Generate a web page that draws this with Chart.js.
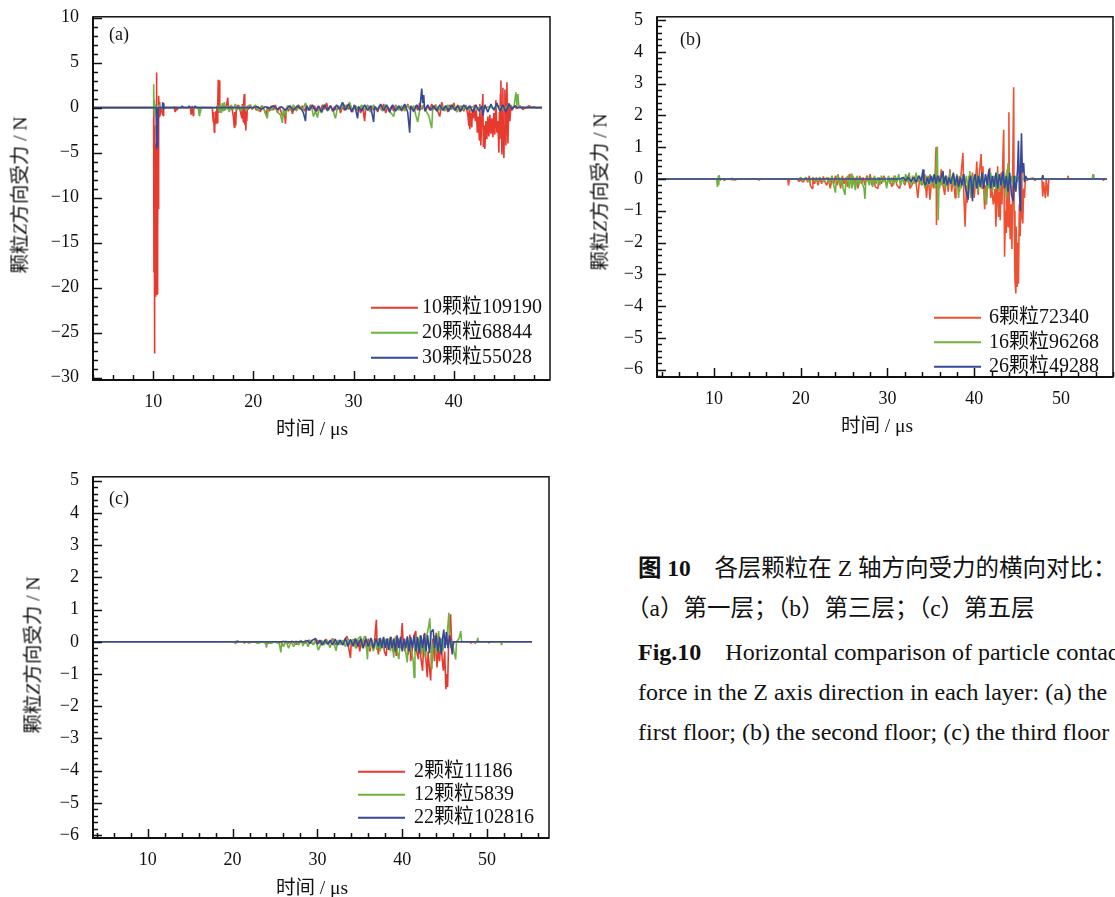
<!DOCTYPE html>
<html>
<head>
<meta charset="utf-8">
<script src="https://cdn.jsdelivr.net/npm/chart.js@4.4.1/dist/chart.umd.min.js"></script>
<style>
  body { margin: 0; width: 1115px; height: 897px; overflow: hidden; background: #fff; position: relative;
         font-family: 'Liberation Serif', 'Noto Sans CJK SC', serif; color: #111; }
  canvas { position: absolute; }
  .ytitle, .xtitle { position: absolute; font-size: 19.5px; white-space: nowrap; transform: translate(-50%, -50%); }
  .ytitle { transform: translate(-50%, -50%) rotate(-90deg); }
  .cap { position: absolute; left: 638px; font-size: 23.5px; white-space: nowrap; line-height: 26px; }
  .en { font-size: 24px; }
</style>
</head>
<body>
<canvas id="chartA" width="570" height="420" style="left:0;top:0"></canvas>
<canvas id="chartB" width="555" height="420" style="left:560px;top:0"></canvas>
<canvas id="chartC" width="570" height="440" style="left:0;top:460px"></canvas>

<div class="ytitle" style="left:18px;top:195px">颗粒<i>Z</i>方向受力 / N</div>
<div class="xtitle" style="left:312px;top:426px">时间 / μs</div>
<div class="ytitle" style="left:598px;top:192px">颗粒<i>Z</i>方向受力 / N</div>
<div class="xtitle" style="left:877px;top:423px">时间 / μs</div>
<div class="ytitle" style="left:31px;top:655px">颗粒<i>Z</i>方向受力 / N</div>
<div class="xtitle" style="left:312px;top:885px">时间 / μs</div>

<div class="cap" style="top:555px"><b>图 10</b>&emsp;各层颗粒在 Z 轴方向受力的横向对比：</div>
<div class="cap" style="top:595px;left:626px">（a）第一层；（b）第三层；（c）第五层</div>
<div class="cap en" style="top:639px"><b>Fig.10</b>&ensp;&ensp;Horizontal comparison of particle contact</div>
<div class="cap en" style="top:679px">force in the Z axis direction in each layer: (a) the</div>
<div class="cap en" style="top:719px">first floor; (b) the second floor; (c) the third floor</div>

<script>
// ---- panel (a): first layer ----
const aLabels = ['10颗粒109190', '20颗粒68844', '30颗粒55028'];
const aXTicks = [10, 20, 30, 40];
const aYTicks = [10, 5, 0, -5, -10, -15, -20, -25, -30];

const aRed = [[4,0],[10.05,0],[10.08,-18.3],[10.1,-2],[10.12,-18],[10.14,-3],[10.16,-27.3],[10.18,-6],[10.2,-18.5],
  [10.22,-10],[10.24,-21],[10.26,-4],[10.28,-20.5],[10.3,-8],[10.32,-20.7],[10.34,3.9],[10.36,-20.8],[10.38,-12],
  [10.4,-20.7],[10.42,-9],[10.44,-20.6],[10.46,-6],[10.48,-14],[10.5,-3],[10.52,-11.3],[10.54,-2],[10.56,-11.2],
  [10.58,1.3],[10.62,-1],[10.66,0.6],[10.7,-0.8],[10.75,0],[10.9,-0.4],[11.0,-0.9],[11.05,0],[12.1,0],[12.2,-0.5],
  [12.3,0.1],[12.4,-0.3],[12.5,0],[13.7,0],[13.8,-0.8],[13.9,0.2],[14.0,-0.9],[14.05,0],[15.9,0],[16.0,-1.6],
  [16.05,-0.5],[16.1,-2.75],[16.15,-1.2],[16.2,-1.8],[16.25,-0.4],[16.3,-1.5],[16.35,0.2],[16.4,-1.7],[16.45,0.5],
  [16.5,3.1],[16.55,-0.6],[16.6,3.0],[16.65,-0.4],[16.7,0.2],[16.8,-0.6],[16.9,0],[17.1,-0.3],[17.3,0.2],[17.45,1.1],
  [17.5,-0.2],[17.7,0.2],[17.9,-0.3],[18.0,-1.0],[18.1,-2.2],[18.15,-0.5],[18.25,-2.0],[18.3,0],[18.5,0.3],[18.7,-0.4],
  [18.85,-1.2],[18.9,0.4],[19.0,-1.6],[19.05,0.9],[19.1,1.5],[19.15,-1.9],[19.2,-0.4],[19.25,-2.55],[19.3,-0.8],
  [19.35,-1.5],[19.4,0.2],[19.5,-0.2],[19.7,0.3],[19.9,-0.2],[20.1,0.2],[20.3,-0.3],[20.5,0.1],[20.7,-0.5],[20.9,0.2],
  [21.1,-0.3],[21.3,-0.9],[21.4,0.1],[21.6,-0.4],[21.8,0.2],[22.0,-0.3],[22.2,0.3],[22.4,-0.5],[22.6,0.1],[22.8,-0.6],
  [22.95,-1.0],[23.1,-0.3],[23.2,-1.8],[23.3,0],[23.5,-0.4],[23.7,0.2],[23.9,-0.7],[24.1,0.1],[24.3,-0.3],[24.5,0.3],
  [24.7,-0.2],[24.9,0.2],[25.1,-0.4],[25.3,0.1],[25.5,-0.3],[25.7,0.3],[25.9,-0.2],[26.1,0.2],[26.3,-0.5],[26.5,0.1],
  [26.7,-0.3],[26.9,0.3],[27.1,-0.2],[27.3,0.5],[27.5,-0.3],[27.7,0.2],[27.9,-0.4],[28.1,0.1],[28.3,-0.3],[28.5,0.2],
  [28.7,-0.6],[28.9,0.1],[29.1,-0.3],[29.3,0.3],[29.5,-0.2],[29.7,0.1],[29.9,-0.5],[30.1,0.2],[30.3,-0.3],[30.5,0.1],
  [30.7,-0.6],[30.9,0.2],[31.1,-1.5],[31.2,-0.2],[31.4,0.3],[31.6,-0.4],[31.8,0.2],[32.0,-0.3],[32.2,0.1],[32.4,-0.5],
  [32.6,0.2],[32.8,-0.3],[33.0,0.4],[33.2,-0.6],[33.4,0.1],[33.6,-0.3],[33.8,0.2],[34.0,-0.4],[34.2,0.3],[34.4,-0.2],
  [34.6,0.1],[34.8,-0.4],[35.0,0.2],[35.2,-0.3],[35.4,0.4],[35.6,-0.2],[35.8,0.1],[36.0,-0.5],[36.2,0.2],[36.4,-0.3],
  [36.6,0.5],[36.8,-0.2],[37.0,0.3],[37.2,-0.4],[37.4,0.2],[37.6,-0.3],[37.8,0.4],[38.0,-0.2],[38.2,0.3],[38.4,-0.4],
  [38.6,-1.0],[38.8,0.6],[39.0,-0.3],[39.2,0.2],[39.4,-0.5],[39.6,0.3],[39.8,-0.2],[40.0,0.5],[40.2,-0.3],[40.4,0.3],
  [40.6,-0.5],[40.8,0.2],[41.0,-0.4],[41.2,0.3],[41.4,-0.8],[41.5,-2.0],[41.55,0.2],[41.6,-2.4],[41.7,-0.6],
  [41.8,-2.2],[41.85,-0.2],[41.95,-1.2],[42.05,0.3],[42.15,-1.5],[42.25,-0.3],[42.35,-2.8],[42.45,-1.0],[42.55,-3.6],
  [42.6,0.4],[42.7,-4.2],[42.8,-1.0],[42.9,1.5],[42.95,-4.4],[43.05,-2.0],[43.1,-4.6],[43.2,-1.5],[43.3,-3.5],
  [43.4,-1.0],[43.5,-3.2],[43.6,-0.8],[43.7,-2.9],[43.8,-1.2],[43.9,-3.3],[44.0,-0.6],[44.1,-3.0],[44.2,0.8],
  [44.3,-2.8],[44.4,-1.5],[44.5,-5.0],[44.55,-0.5],[44.6,-3.5],[44.65,1.5],[44.7,3.0],[44.75,-2.0],[44.8,-5.2],
  [44.85,-1.0],[44.9,2.2],[44.95,-4.0],[45.0,-5.6],[45.05,-2.0],[45.1,2.0],[45.2,-4.2],[45.3,2.8],[45.35,-1.0],
  [45.4,-4.0],[45.5,0.5],[45.6,-1.5],[45.7,0.3],[45.8,-0.3],[46.0,0.1],[46.3,-0.1],[46.6,0.2],[46.9,-0.2],[47.2,0],
  [47.5,0.2],[47.8,0],[48.0,0.1],[48.2,0],[48.8,0]];

const aGreen = [[4,0],[10.0,0],[10.03,2.6],[10.06,1.5],[10.08,2.0],[10.1,-0.5],[10.12,0.8],[10.15,-1],[10.2,0.3],
  [10.3,0],[10.5,-0.3],[10.6,0.3],[10.8,0],[12.0,0],[12.1,0.1],[12.2,0],[14.5,0],[14.6,-0.9],[14.65,0.1],[14.7,-0.6],
  [14.8,0],[16.4,0],[16.5,0.2],[16.6,-0.5],[16.7,0.3],[16.8,-0.6],[16.9,0.5],[17.0,-0.4],[17.1,0.6],[17.2,-0.3],
  [17.4,0.2],[17.6,-0.5],[17.8,0.3],[18.0,-0.2],[18.2,0.4],[18.4,-0.3],[18.6,0.2],[18.8,-0.4],[19.0,0.2],[19.3,-0.3],
  [19.6,0.3],[19.9,-0.2],[20.2,0.3],[20.5,-0.4],[20.8,0.2],[21.1,-0.3],[21.4,-1.2],[21.5,0.1],[21.8,-0.3],[22.1,0.2],
  [22.4,-0.5],[22.7,-0.8],[22.9,-1.7],[23.0,0],[23.2,-0.9],[23.4,0.2],[23.7,-0.3],[24.0,0.3],[24.3,-0.4],[24.6,0.2],
  [24.9,-0.3],[25.2,0.5],[25.5,-0.3],[25.8,0.2],[26.0,-1.0],[26.2,-0.4],[26.4,-1.1],[26.6,0.1],[26.8,-0.6],[27.1,0.3],
  [27.4,-0.4],[27.7,0.2],[28.0,-0.5],[28.2,-1.2],[28.4,0.1],[28.7,-0.3],[29.0,0.4],[29.3,-0.2],[29.6,0.6],[29.9,-0.4],
  [30.2,0.2],[30.5,-0.3],[30.8,0.3],[31.1,-0.2],[31.4,0.2],[31.7,-0.5],[32.0,0.3],[32.3,-0.3],[32.6,0.2],[32.9,-0.4],
  [33.2,0.3],[33.5,-0.3],[33.8,-0.7],[34.0,-1.0],[34.2,0.2],[34.5,-0.3],[34.8,0.2],[35.1,-0.4],[35.4,0.3],[35.7,-0.2],
  [36.0,0.2],[36.2,-0.8],[36.4,-1.6],[36.6,-0.3],[36.9,0.2],[37.2,-0.3],[37.5,-0.9],[37.8,-2.3],[37.9,0],[38.2,0.3],
  [38.5,-0.3],[38.8,0.2],[39.1,-0.4],[39.4,0.3],[39.7,-0.2],[40.0,0.2],[40.3,-0.5],[40.6,0.2],[40.9,-0.3],[41.2,0.2],
  [41.5,-0.2],[41.8,0.1],[42.2,-0.2],[42.6,0.1],[43.0,-0.1],[43.5,0.1],[44.0,-0.1],[44.5,0.2],[45.0,-0.2],[45.5,0.3],
  [46.0,0],[46.2,1.7],[46.3,0.2],[46.4,1.5],[46.5,0],[46.8,0.1],[47.2,0],[48.8,0]];

const aBlue = [[4,0],[10.3,0],[10.35,-4.6],[10.4,-0.5],[10.45,-4.4],[10.5,0],[10.9,0],[10.95,0.6],[11.0,-0.2],
  [11.05,0.5],[11.1,0],[12.8,0],[12.9,0.2],[13.0,0],[13.5,0],[13.6,0.2],[13.7,0],[14.1,0],[14.2,0.2],[14.3,0],
  [20.0,0],[20.4,0.1],[20.8,-0.2],[21.2,0.1],[21.6,-0.1],[22.0,0.2],[22.4,-0.2],[22.8,0.1],[23.2,-0.3],[23.6,0.2],
  [24.0,-0.3],[24.4,0.2],[24.8,-0.2],[25.0,-0.6],[25.2,-1.5],[25.3,0.2],[25.6,-0.3],[25.9,0.3],[26.2,-0.4],[26.5,0.2],
  [26.8,-0.5],[27.1,0.3],[27.4,-0.3],[27.7,0.2],[28.0,-0.4],[28.3,0.3],[28.6,-0.2],[28.9,0.6],[29.2,-0.3],[29.5,0.4],
  [29.8,-0.5],[30.1,0.3],[30.4,-1.2],[30.5,0.1],[30.8,-0.4],[31.1,0.3],[31.4,-0.3],[31.7,0.2],[32.0,-1.6],[32.1,0.1],
  [32.4,-0.3],[32.7,0.4],[33.0,-0.3],[33.3,0.3],[33.6,-0.5],[33.9,0.3],[34.2,-0.4],[34.5,0.2],[34.8,-0.3],[35.1,0.4],
  [35.4,-0.5],[35.6,-2.8],[35.7,0.2],[36.0,-0.4],[36.3,0.3],[36.6,-0.3],[36.8,2.1],[36.9,0.5],[37.0,1.4],[37.1,-0.4],
  [37.4,0.3],[37.7,-0.3],[38.0,0.2],[38.3,-0.4],[38.6,0.3],[38.9,-0.3],[39.2,0.2],[39.5,-0.4],[39.8,0.3],[40.1,-0.3],
  [40.4,0.2],[40.7,-0.4],[41.0,0.3],[41.3,-0.2],[41.6,0.2],[41.9,-0.5],[42.2,0.3],[42.5,-0.4],[42.8,0.2],[42.9,-0.9],
  [43.1,0.3],[43.4,-0.5],[43.7,0.4],[44.0,-0.3],[44.3,0.5],[44.6,-0.4],[44.9,0.3],[45.2,-0.5],[45.5,0.4],[45.8,-0.2],
  [46.1,0.2],[46.4,0],[48.8,0]];

// ---- panel (b): third layer ----
const bLabels = ['6颗粒72340', '16颗粒96268', '26颗粒49288'];
const bXTicks = [10, 20, 30, 40, 50];
const bYTicks = [5, 4, 3, 2, 1, 0, -1, -2, -3, -4, -5, -6];

const bRed = [[3.3,0],[11.0,0],[11.2,-0.05],[11.4,0],[12.5,-0.03],[12.7,0],[15.0,0],[15.2,-0.04],[15.4,0],[18.5,0],
  [18.6,-0.2],[18.7,0],[19.6,0],[19.8,-0.08],[20.0,-0.03],[20.3,-0.1],[20.6,0.05],[20.8,-0.1],[21.0,0.1],[21.1,-0.2],
  [21.3,-0.3],[21.4,0],[21.6,-0.15],[21.8,0.05],[22.0,-0.2],[22.2,0.05],[22.4,-0.15],[22.6,0.08],[22.8,-0.1],
  [23.0,-0.2],[23.2,0.05],[23.4,-0.3],[23.6,0],[23.8,-0.15],[24.0,0.1],[24.2,-0.2],[24.4,0.05],[24.6,-0.3],[24.8,0.1],
  [25.0,-0.15],[25.2,0.05],[25.4,-0.25],[25.6,0.15],[25.8,-0.1],[26.0,0.1],[26.2,-0.2],[26.4,0.05],[26.6,-0.3],
  [26.8,0.1],[27.0,-0.15],[27.2,0.05],[27.4,-0.2],[27.6,0.1],[27.8,-0.1],[28.0,0.15],[28.2,-0.2],[28.4,0.05],
  [28.6,-0.25],[28.9,-0.3],[29.0,0.05],[29.3,-0.15],[29.6,0.1],[29.9,-0.2],[30.2,0.05],[30.5,-0.25],[30.8,0.1],
  [31.1,-0.2],[31.4,-0.3],[31.7,0.05],[32.0,-0.2],[32.3,0.1],[32.6,-0.3],[32.9,-0.15],[33.2,0.1],[33.5,-0.6],[33.7,0],
  [34.0,-0.2],[34.3,0.15],[34.5,-0.6],[34.7,0.1],[34.9,-0.65],[35.1,0.05],[35.3,-0.3],[35.5,0.2],[35.6,1.0],
  [35.65,-1.45],[35.75,0.1],[36.0,-0.3],[36.2,0.3],[36.4,-0.2],[36.6,-0.5],[36.8,0.1],[37.0,-0.4],[37.2,0.3],
  [37.4,-0.4],[37.6,0.1],[37.8,-0.6],[37.9,-0.2],[38.1,0.1],[38.3,-0.4],[38.5,0.2],[38.7,0.82],[38.8,-0.5],
  [38.95,-1.5],[39.1,-0.2],[39.2,-0.75],[39.4,0.1],[39.6,-0.5],[39.8,0.2],[40.0,-0.6],[40.2,0.1],[40.3,0.55],
  [40.45,-0.5],[40.6,0.2],[40.8,0.78],[40.9,-0.3],[41.0,0.4],[41.2,-0.95],[41.3,-0.2],[41.4,-0.8],[41.6,0.1],
  [41.8,0.35],[41.9,-0.6],[42.0,-0.2],[42.2,-0.8],[42.4,-0.3],[42.5,-1.5],[42.6,-0.6],[42.7,0.4],[42.8,-1.2],
  [42.9,-0.4],[43.0,-1.3],[43.1,0.2],[43.2,-0.8],[43.3,0.6],[43.4,1.55],[43.45,-0.5],[43.5,-2.45],[43.6,-1.0],
  [43.7,-1.7],[43.8,0.3],[43.9,-1.5],[44.0,2.1],[44.05,-0.6],[44.15,-1.9],[44.25,-0.8],[44.35,-2.2],[44.45,0.5],
  [44.55,2.88],[44.6,-1.0],[44.7,-3.2],[44.8,-3.6],[44.85,-1.5],[44.95,-3.4],[45.05,-2.0],[45.1,-3.3],[45.2,-0.8],
  [45.3,-1.8],[45.4,0.3],[45.5,-1.2],[45.6,-1.4],[45.7,-0.3],[45.8,-0.6],[45.9,0.05],[46.1,-0.05],[46.3,0],
  [46.8,0.03],[47.0,-0.05],[47.2,0],[47.8,0],[47.9,-0.55],[48.0,-0.1],[48.2,-0.6],[48.3,0],[48.5,-0.55],[48.6,0],
  [50.7,0],[50.8,0.1],[50.9,0],[54.8,0],[54.9,-0.05],[55.0,0],[55.3,0]];

const bGreen = [[3.3,0],[10.3,0],[10.4,-0.25],[10.5,0.1],[10.55,-0.2],[10.6,0.12],[10.7,-0.05],[10.9,0],[12.0,0],
  [12.1,0.03],[12.2,0],[19.8,0],[20.0,0.05],[20.3,-0.05],[20.6,0.05],[21.0,-0.1],[21.4,0.05],[21.8,-0.08],[22.2,0.05],
  [22.6,-0.1],[23.0,0.05],[23.3,-0.15],[23.6,0.1],[23.8,-0.2],[24.0,-0.43],[24.1,0],[24.3,0.15],[24.5,-0.2],
  [24.7,0.05],[24.9,-0.3],[25.1,-0.5],[25.2,-0.1],[25.4,0.1],[25.6,-0.3],[25.8,0.17],[25.9,-0.3],[26.1,0.05],
  [26.3,-0.35],[26.5,0.1],[26.7,-0.2],[26.9,0.05],[27.1,-0.15],[27.3,-0.3],[27.4,-0.63],[27.5,-0.1],[27.7,0.1],
  [27.9,-0.2],[28.1,0.05],[28.3,-0.25],[28.5,0.1],[28.7,-0.15],[28.9,0.05],[29.1,-0.2],[29.3,0.1],[29.5,-0.1],
  [29.7,0.05],[29.9,-0.3],[30.1,0.1],[30.3,-0.15],[30.5,0.05],[30.7,-0.2],[30.9,0.1],[31.1,-0.1],[31.3,0.15],
  [31.5,-0.2],[31.7,0.05],[31.9,-0.15],[32.1,0.15],[32.3,-0.1],[32.5,0.2],[32.7,-0.2],[32.9,0.1],[33.1,-0.15],
  [33.3,0.2],[33.5,-0.1],[33.7,0.1],[33.9,-0.2],[34.1,0.15],[34.3,-0.3],[34.5,0.1],[34.7,-0.2],[34.9,0.15],
  [35.1,-0.2],[35.3,0.1],[35.5,-0.3],[35.75,1.02],[35.85,-1.3],[35.95,0.1],[36.2,-0.2],[36.4,0.15],[36.6,-0.3],
  [36.8,0.1],[37.0,-0.25],[37.2,0.2],[37.4,-0.2],[37.6,0.1],[37.8,-0.3],[38.0,0.15],[38.2,-0.6],[38.35,0.1],
  [38.5,-0.3],[38.7,0.15],[38.9,-0.2],[39.1,0.1],[39.3,-0.4],[39.5,0.25],[39.6,-0.6],[39.8,0.1],[40.0,-0.3],
  [40.2,0.2],[40.4,-0.4],[40.6,0.1],[40.8,-0.3],[41.0,0.15],[41.2,-0.5],[41.4,-0.8],[41.5,0.1],[41.7,-0.3],
  [41.9,0.2],[42.1,-0.4],[42.3,0.1],[42.5,-0.3],[42.7,0.2],[42.9,-0.4],[43.1,0.1],[43.3,-0.2],[43.5,0.2],[43.7,-0.6],
  [43.9,0.5],[44.1,-0.3],[44.3,0.1],[44.5,-0.2],[44.7,0.1],[44.9,-0.1],[45.1,0.05],[45.4,0],[53.6,0],[53.7,0.15],
  [53.8,0],[55.3,0]];

const bBlue = [[3.3,0],[31.5,0],[31.8,0.05],[32.1,-0.05],[32.4,0.05],[32.7,-0.08],[33.0,0.05],[33.3,-0.1],[33.6,0.1],
  [33.9,-0.05],[34.1,0.3],[34.2,-0.1],[34.4,-0.2],[34.6,0.05],[34.8,-0.15],[35.0,0.1],[35.2,-0.1],[35.4,0.15],
  [35.6,-0.15],[35.8,0.1],[36.0,-0.1],[36.2,0.05],[36.4,0.25],[36.5,-0.15],[36.7,0.1],[36.9,-0.2],[37.1,0.05],
  [37.3,-0.15],[37.6,0.2],[37.8,-0.2],[38.0,0.1],[38.2,-0.25],[38.4,0.05],[38.6,-0.2],[38.8,0.15],[39.0,-0.3],
  [39.3,-0.65],[39.4,-0.1],[39.6,0.1],[39.8,-0.7],[39.9,-0.1],[40.1,0.15],[40.3,-0.3],[40.5,0.1],[40.7,-0.25],
  [40.9,0.2],[41.1,-0.3],[41.3,0.15],[41.5,-0.2],[41.7,0.3],[41.9,-0.3],[42.1,0.1],[42.3,-0.25],[42.5,0.2],
  [42.7,-0.3],[42.9,0.15],[43.1,-0.2],[43.3,0.25],[43.5,-0.3],[43.7,0.1],[43.9,-0.4],[44.1,0.2],[44.3,-0.5],
  [44.5,-0.7],[44.6,0.1],[44.8,-0.4],[45.0,0.3],[45.1,1.2],[45.2,-0.3],[45.3,-1.0],[45.35,0.4],[45.45,1.44],
  [45.55,0.2],[45.7,0.5],[45.8,-0.1],[45.9,0.1],[46.1,0],[47.8,0],[47.9,0.12],[48.0,0],[55.3,0]];

// ---- panel (c): fifth layer ----
const cLabels = ['2颗粒11186', '12颗粒5839', '22颗粒102816'];
const cXTicks = [10, 20, 30, 40, 50];
const cYTicks = [5, 4, 3, 2, 1, 0, -1, -2, -3, -4, -5, -6];

const cRed = [[3.5,0],[20.5,0],[20.6,0.03],[20.7,0],[21.3,0],[21.4,-0.05],[21.5,0],[22.0,-0.03],[22.4,0],[23.0,-0.03],
  [23.5,0],[24.2,-0.05],[24.5,0],[25.5,-0.03],[26.0,0.02],[26.5,-0.05],[27.0,0.02],[27.5,-0.08],[28.0,0.03],
  [28.5,-0.05],[29.0,0.05],[29.5,-0.08],[30.0,0.05],[30.5,-0.1],[31.0,0.08],[31.4,-0.05],[31.8,0.1],[32.2,-0.1],
  [32.6,0.05],[33.0,-0.1],[33.3,0.1],[33.5,0.17],[33.7,-0.2],[33.9,-0.5],[34.0,0],[34.2,-0.15],[34.4,0.1],[34.6,-0.2],
  [34.8,0.05],[35.0,-0.3],[35.2,0.1],[35.4,-0.15],[35.6,0.05],[35.8,-0.2],[36.0,0.1],[36.2,-0.3],[36.4,0.05],
  [36.6,-0.25],[36.8,0.2],[36.95,0.68],[37.05,-0.1],[37.2,-0.39],[37.3,0.1],[37.5,-0.2],[37.7,0.1],[37.9,-0.3],
  [38.1,-0.44],[38.3,0.1],[38.5,-0.2],[38.7,0.15],[38.9,-0.3],[39.1,0.1],[39.3,-0.44],[39.5,0.1],[39.8,-0.2],
  [40.0,0.58],[40.1,0],[40.3,-0.3],[40.5,0.1],[40.7,-0.4],[40.9,0.22],[41.0,-0.6],[41.2,-0.2],[41.4,0.2],[41.6,0.33],
  [41.7,-0.3],[41.9,-0.54],[42.0,0.1],[42.2,-0.5],[42.4,-0.9],[42.5,-0.2],[42.65,0.28],[42.8,-0.6],[42.95,-1.1],
  [43.05,-0.3],[43.2,-0.8],[43.35,-1.2],[43.45,-0.4],[43.6,0.1],[43.8,-0.6],[44.0,0.28],[44.1,-0.8],[44.25,-0.2],
  [44.4,-0.6],[44.55,0.1],[44.7,-0.5],[44.85,-0.9],[45.0,-0.3],[45.15,-1.47],[45.25,-1.0],[45.35,-1.4],[45.45,-0.2],
  [45.6,0.5],[45.7,0.85],[45.8,0.1],[45.95,-0.2],[46.1,0],[48.0,0],[48.1,-0.05],[48.2,0],[48.5,0],[48.6,-0.05],
  [48.7,0],[50.1,0],[50.2,-0.04],[50.3,0],[55.3,0]];

const cGreen = [[3.5,0],[20.2,0],[20.3,-0.05],[20.4,0.03],[20.5,-0.03],[20.6,0],[21.8,0],[21.9,-0.05],[22.0,0],
  [22.8,0],[22.9,-0.05],[23.2,-0.03],[23.5,0],[23.9,-0.05],[24.0,-0.18],[24.1,0],[24.5,-0.05],[25.0,0],[25.5,-0.05],
  [25.7,-0.33],[25.8,0],[26.0,-0.15],[26.3,0.03],[26.6,-0.2],[26.9,0],[27.2,-0.15],[27.5,0.03],[27.8,-0.1],
  [28.1,0.05],[28.3,-0.13],[28.6,0.05],[28.9,-0.15],[29.2,0.05],[29.5,-0.1],[29.8,0.08],[30.1,-0.26],[30.3,-0.15],
  [30.5,0.05],[30.8,-0.1],[31.1,0.05],[31.5,-0.18],[31.8,0.08],[32.2,-0.28],[32.4,0.05],[32.7,-0.1],[33.0,0.05],
  [33.3,-0.15],[33.6,0.1],[33.9,-0.1],[34.2,0.08],[34.5,-0.2],[34.8,0.1],[35.1,0.17],[35.3,-0.2],[35.5,0.15],
  [35.7,0.17],[35.9,-0.55],[36.0,0],[36.2,-0.2],[36.4,0.1],[36.6,-0.3],[36.8,0.05],[37.0,-0.25],[37.2,0.1],
  [37.4,-0.3],[37.6,0.05],[37.8,-0.2],[38.0,0.1],[38.2,-0.15],[38.4,0.1],[38.6,-0.3],[38.8,0.05],[39.0,-0.49],
  [39.1,0],[39.2,0.17],[39.4,-0.3],[39.6,-0.54],[39.8,0.1],[40.0,-0.2],[40.2,0.1],[40.4,-0.3],[40.6,-0.64],[40.7,0],
  [40.9,0.1],[41.1,-0.3],[41.3,-0.6],[41.4,-1.11],[41.5,-0.2],[41.7,0.15],[41.9,-0.3],[42.1,0.2],[42.3,-0.4],
  [42.5,0.1],[42.7,-0.5],[42.9,0.2],[43.1,0.45],[43.25,0.73],[43.35,0.1],[43.5,-0.85],[43.6,-0.2],[43.8,0.2],
  [44.0,-0.4],[44.15,0.1],[44.3,0.33],[44.45,-0.3],[44.6,0.1],[44.8,-0.3],[45.0,0.2],[45.2,-0.1],[45.35,0.4],
  [45.5,0.9],[45.6,0.2],[45.75,-0.2],[45.9,0],[46.1,-0.3],[46.3,-0.55],[46.4,0],[46.7,0.1],[46.9,0.33],[47.0,0],
  [48.8,0],[48.9,0.12],[49.0,0],[51.6,0],[51.7,-0.1],[51.8,0],[55.3,0]];

const cBlue = [[3.5,0],[28.5,0],[28.8,0.03],[29.1,-0.05],[29.4,0.05],[29.8,0.1],[30.0,-0.08],[30.3,0.05],[30.6,-0.1],
  [30.9,0.05],[31.2,-0.08],[31.5,0.05],[31.8,-0.1],[32.1,0.08],[32.4,-0.1],[32.7,0.05],[33.0,-0.1],[33.3,0.1],
  [33.6,-0.15],[33.9,0.08],[34.2,-0.12],[34.5,0.1],[34.8,-0.15],[35.1,0.1],[35.4,-0.2],[35.7,0.1],[36.0,-0.15],
  [36.3,0.12],[36.6,-0.2],[36.9,0.1],[37.2,-0.15],[37.4,0.12],[37.6,-0.2],[37.8,0.15],[38.0,-0.2],[38.2,0.1],
  [38.4,-0.25],[38.6,0.15],[38.8,-0.2],[39.0,0.1],[39.2,-0.3],[39.4,0.2],[39.6,-0.2],[39.8,0.15],[40.0,-0.3],
  [40.2,0.1],[40.4,-0.2],[40.6,0.17],[40.8,-0.3],[41.0,0.15],[41.2,-0.2],[41.4,0.2],[41.6,-0.3],[41.8,0.15],
  [42.0,-0.35],[42.2,0.2],[42.4,-0.2],[42.6,0.25],[42.8,-0.3],[43.0,0.2],[43.2,-0.35],[43.4,0.3],[43.65,0.38],
  [43.8,-0.2],[44.0,0.2],[44.2,-0.3],[44.4,0.15],[44.6,-0.39],[44.75,0.1],[44.9,0.38],[45.05,-0.2],[45.2,0.3],
  [45.4,-0.2],[45.6,0.2],[45.75,-0.1],[45.9,-0.39],[46.0,0],[55.3,0]];

const FONT = "'Liberation Serif', 'Noto Sans CJK SC', serif";
const RED = '#e8392f', GREEN = '#6db33f', BLUE = '#37489b';

// frame, inward ticks, legend and panel tag
const decor = {
  id: 'decor',
  afterDraw(chart, args, o) {
    const { ctx, chartArea: a, scales: { x, y } } = chart;
    ctx.save();
    ctx.strokeStyle = '#111';
    ctx.lineWidth = 1.5;
    ctx.strokeRect(a.left, a.top, a.right - a.left, a.bottom - a.top);
    ctx.lineWidth = 2;
    ctx.beginPath();
    ctx.moveTo(a.left, a.top); ctx.lineTo(a.left, a.bottom); ctx.lineTo(a.right, a.bottom);
    ctx.stroke();

    ctx.lineWidth = 1.5;
    ctx.beginPath();
    for (let v = Math.ceil(x.min / o.xMinor) * o.xMinor; v <= x.max; v += o.xMinor) {
      const px = Math.round(x.getPixelForValue(v)) + 0.5;
      const len = o.xTicks.includes(v) ? 9 : 5;
      ctx.moveTo(px, a.bottom); ctx.lineTo(px, a.bottom - len);
    }
    for (let i = Math.ceil(y.min / o.yMinor); i * o.yMinor <= y.max + 1e-9; i++) {
      const v = +(i * o.yMinor).toFixed(3);
      const py = Math.round(y.getPixelForValue(v)) + 0.5;
      const len = o.yTicks.includes(v) ? 9 : 5;
      ctx.moveTo(a.left, py); ctx.lineTo(a.left + len, py);
    }
    ctx.stroke();

    ctx.font = '20px ' + FONT;
    ctx.fillStyle = '#111';
    ctx.textBaseline = 'middle';
    chart.data.datasets.forEach((ds, i) => {
      const ly = a.top + o.legend.y + i * o.legend.dy;
      ctx.strokeStyle = ds.borderColor;
      ctx.lineWidth = 2;
      ctx.beginPath();
      ctx.moveTo(a.left + o.legend.x, ly); ctx.lineTo(a.left + o.legend.x + 47, ly);
      ctx.stroke();
      ctx.fillText(ds.label, a.left + o.legend.tx, ly);
    });

    ctx.font = '18px ' + FONT;
    ctx.fillText(o.tag, a.left + o.tagX, a.top + o.tagY);
    ctx.restore();
  }
};

const minus = v => (v < 0 ? '\u2212' + Math.abs(v) : String(v));

function makePanel(id, series, labels, colors, xr, yr, xTicks, yTicks, box, deco) {
  const datasets = series.map((s, i) => ({
    label: labels[i],
    data: s.map(([t, f]) => ({ x: t, y: f })),
    borderColor: colors[i],
    borderWidth: 1.6,
    borderJoinStyle: 'bevel',
    pointRadius: 0,
    tension: 0,
    order: 3 - i
  }));
  return new Chart(document.getElementById(id), {
    type: 'line',
    data: { datasets },
    options: {
      responsive: false,
      animation: false,
      events: [],
      devicePixelRatio: 1,
      layout: { padding: { left: 0, top: box.top, right: box.right, bottom: 0 } },
      plugins: {
        legend: { display: false },
        tooltip: { enabled: false },
        decor: Object.assign({ xTicks, yTicks }, deco)
      },
      scales: {
        x: {
          type: 'linear', min: xr[0], max: xr[1],
          grid: { display: false }, border: { display: false },
          afterBuildTicks: s => { s.ticks = xTicks.map(v => ({ value: v })); },
          afterFit: s => { s.height = box.xh; },
          ticks: { color: '#111', font: { family: FONT, size: 18 }, padding: 3, maxRotation: 0, callback: v => minus(v) }
        },
        y: {
          type: 'linear', min: yr[0], max: yr[1],
          grid: { display: false }, border: { display: false },
          afterBuildTicks: s => { s.ticks = yTicks.map(v => ({ value: v })); },
          afterFit: s => { s.width = box.yw; },
          ticks: { color: '#111', font: { family: FONT, size: 18 }, padding: 6, callback: v => minus(v) }
        }
      }
    },
    plugins: [decor]
  });
}

makePanel('chartA', [aRed, aGreen, aBlue], aLabels, [RED, GREEN, BLUE], [4, 49.6], [-30.25, 10.08],
  aXTicks, aYTicks, { top: 15, right: 20, xh: 40, yw: 93 },
  { xMinor: 2, yMinor: 1, legend: { x: 278, tx: 329, y: 291, dy: 25 }, tag: '(a)', tagX: 16, tagY: 18 });

makePanel('chartB', [bRed, bGreen, bBlue], bLabels, ['#ee5132', GREEN, BLUE], [3.43, 56.0], [-6.23, 5.1],
  bXTicks, bYTicks, { top: 12, right: 2, xh: 43, yw: 97 },
  { xMinor: 2, yMinor: 0.2, legend: { x: 277, tx: 332, y: 301, dy: 24.5 }, tag: '(b)', tagX: 23, tagY: 23 });

makePanel('chartC', [cRed, cGreen, cBlue], cLabels, [RED, GREEN, BLUE], [3.55, 57.3], [-6.09, 5.12],
  cXTicks, cYTicks, { top: 11, right: 21, xh: 62, yw: 93 },
  { xMinor: 2, yMinor: 0.2, legend: { x: 265, tx: 321, y: 295, dy: 23 }, tag: '(c)', tagX: 16, tagY: 22 });
</script>
</body>
</html>
